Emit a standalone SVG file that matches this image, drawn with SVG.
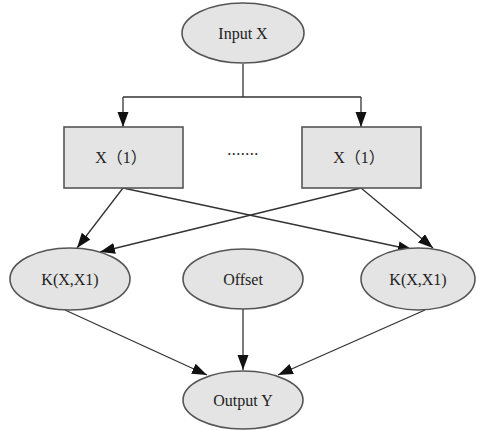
<svg xmlns="http://www.w3.org/2000/svg" width="477" height="430" viewBox="0 0 477 430">
<style>
.n{fill:#e4e4e4;stroke:#555;stroke-width:1.6}
.t{font-family:"Liberation Serif","Noto Sans CJK SC",serif;font-size:16px;fill:#222;text-anchor:middle}
.e{fill:none;stroke:#333;stroke-width:1.3}
</style>
<defs>
<marker id="a" markerUnits="userSpaceOnUse" markerWidth="16" markerHeight="12" refX="15" refY="5.5" orient="auto">
<path d="M0,0 L15,5.5 L0,11 Z" fill="#111"/>
</marker>
</defs>
<rect width="477" height="430" fill="#fff"/>
<g id="edges">
<path class="e" d="M243,64 V97 M123,97 H361"/>
<path class="e" d="M123,97 V127" marker-end="url(#a)"/>
<path class="e" d="M361,97 V127" marker-end="url(#a)"/>
<path class="e" d="M123,188 L77,248" marker-end="url(#a)"/>
<path class="e" d="M123,188 L413,250" marker-end="url(#a)"/>
<path class="e" d="M361,188 L100,252" marker-end="url(#a)"/>
<path class="e" d="M361,188 L433,248" marker-end="url(#a)"/>
<path class="e" d="M65,310 L207,375" marker-end="url(#a)"/>
<path class="e" d="M243,309 L243,370" marker-end="url(#a)"/>
<path class="e" d="M425,310 L278,375" marker-end="url(#a)"/>
</g>
<g id="input"><ellipse class="n" cx="243" cy="33" rx="61" ry="30"/><text class="t" x="243" y="39">Input X</text></g>
<g id="x1a"><rect class="n" x="64" y="127" width="119" height="61"/><text class="t" x="121" y="163">X（1）</text></g>
<g id="dots"><text class="t" x="243" y="155" style="letter-spacing:0.5px">.......</text></g>
<g id="x1b"><rect class="n" x="302" y="127" width="119" height="61"/><text class="t" x="359" y="163">X（1）</text></g>
<g id="k1"><ellipse class="n" cx="70" cy="279" rx="60" ry="31"/><text class="t" x="70" y="285">K(X,X1)</text></g>
<g id="offset"><ellipse class="n" cx="243" cy="279" rx="60" ry="30"/><text class="t" x="243" y="285">Offset</text></g>
<g id="k2"><ellipse class="n" cx="418" cy="279" rx="57" ry="31"/><text class="t" x="418" y="285">K(X,X1)</text></g>
<g id="output"><ellipse class="n" cx="243" cy="400" rx="60" ry="29"/><text class="t" x="243" y="406">Output Y</text></g>
</svg>
